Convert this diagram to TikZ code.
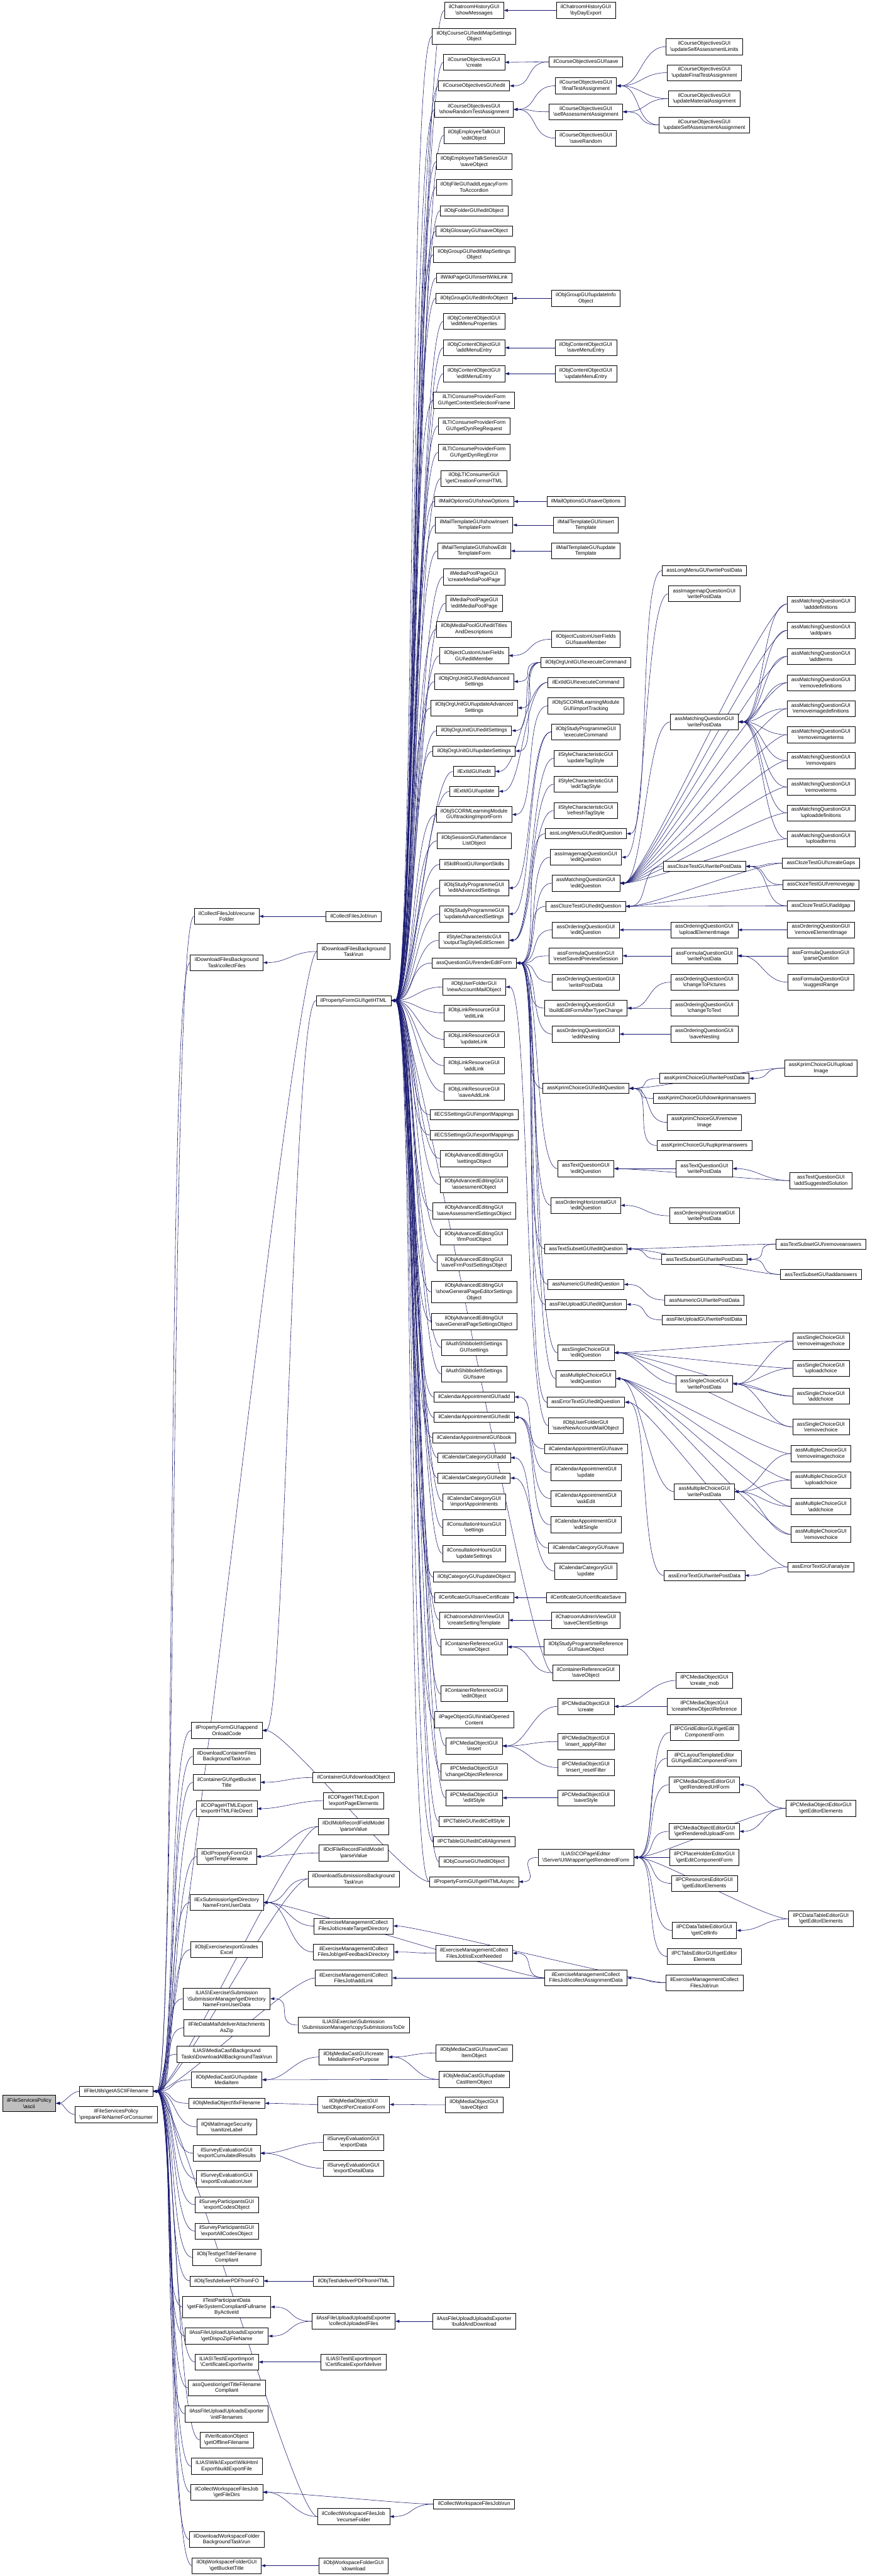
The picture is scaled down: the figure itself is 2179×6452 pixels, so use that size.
\documentclass[tikz,border=0pt]{standalone}
\usepackage{fontspec}
\setmainfont{Liberation Sans}
\usetikzlibrary{arrows.meta}
\definecolor{edgeblue}{HTML}{191970}
\definecolor{rootgray}{HTML}{BFBFBF}
\newcommand\BS{\textbackslash}
\pgfdeclarelayer{bg}
\pgfsetlayers{bg,main}
\tikzset{
 box/.style={draw=black, line width=1pt, fill=white, align=center, inner xsep=11pt, inner ysep=2pt, font=\fontsize{13}{15}\selectfont},
 b1/.style={box, minimum height=25pt},
 b2/.style={box, minimum height=40pt},
 b3/.style={box, minimum height=54pt},
 rootbox/.style={box, minimum height=40pt, fill=rootgray},
 edge/.style={draw=edgeblue, line width=0.9pt, -{Triangle[length=10pt,width=7pt]}},
}
\newcommand\Nd[5]{\node[#4] (#1) at (#2,-#3) {#5};}
\newcommand\Ed[3][60]{\draw[edge] (#3.west) .. controls +(-#1,0) and +(#1,0) .. (#2.east);}
\begin{document}
\begin{tikzpicture}[x=1pt,y=1pt]
\useasboundingbox (0,0) rectangle (2179,-6452);
% ---------- column 0 / 1
\Nd{root}{73}{5268}{rootbox}{ilFileServicesPolicy\\\BS ascii}
\Nd{gaf}{291}{5238}{b1}{ilFileUtils\BS getASCIIFilename}
\Nd{pfc}{291}{5296}{b2}{ilFileServicesPolicy\\\BS prepareFileNameForConsumer}
% ---------- column 2
\Nd{a2recurse}{568}{2295}{b2}{ilCollectFilesJob\BS recurse\\Folder}
\Nd{a2collect}{568}{2411}{b2}{ilDownloadFilesBackground\\Task\BS collectFiles}
\Nd{a2append}{568}{4334}{b2}{ilPropertyFormGUI\BS append\\OnloadCode}
\Nd{a2dlcont}{568}{4399}{b2}{ilDownloadContainerFiles\\BackgroundTask\BS run}
\Nd{a2bucket}{568}{4464}{b2}{ilContainerGUI\BS getBucket\\Title}
\Nd{a2exphtml}{568}{4530}{b2}{ilCOPageHTMLExport\\\BS exportHTMLFileDirect}
\Nd{a2temp}{568}{4650}{b2}{ilDclPropertyFormGUI\\\BS getTempFilename}
\Nd{a2exsub}{568}{4765}{b2}{ilExSubmission\BS getDirectory\\NameFromUserData}
\Nd{a2grades}{568}{4883}{b2}{ilObjExercise\BS exportGrades\\Excel}
\Nd{a2submgr}{568}{5006}{b3}{ILIAS\BS Exercise\BS Submission\\\BS SubmissionManager\BS getDirectory\\NameFromUserData}
\Nd{a2mail}{568}{5079}{b2}{ilFileDataMail\BS deliverAttachments\\AsZip}
\Nd{a2mcdl}{568}{5145}{b2}{ILIAS\BS MediaCast\BS Background\\Tasks\BS DownloadAllBackgroundTask\BS run}
\Nd{a2mcupd}{568}{5209}{b2}{ilObjMediaCastGUI\BS update\\MediaItem}
\Nd{a2fix}{568}{5268}{b1}{ilObjMediaObject\BS fixFilename}
\Nd{a2qti}{568}{5327}{b2}{ilQtiMatImageSecurity\\\BS sanitizeLabel}
\Nd{a2cumul}{568}{5393}{b2}{ilSurveyEvaluationGUI\\\BS exportCumulatedResults}
\Nd{a2evuser}{568}{5457}{b2}{ilSurveyEvaluationGUI\\\BS exportEvaluationUser}
\Nd{a2codes}{568}{5522}{b2}{ilSurveyParticipantsGUI\\\BS exportCodesObject}
\Nd{a2allcodes}{568}{5588}{b2}{ilSurveyParticipantsGUI\\\BS exportAllCodesObject}
\Nd{a2titletst}{568}{5654}{b2}{ilObjTest\BS getTitleFilename\\Compliant}
\Nd{a2pdffo}{568}{5713}{b1}{ilObjTest\BS deliverPDFfromFO}
\Nd{a2partdata}{568}{5778}{b3}{ilTestParticipantData\\\BS getFileSystemCompliantFullname\\ByActiveId}
\Nd{a2dispo}{568}{5851}{b2}{ilAssFileUploadUploadsExporter\\\BS getDispoZipFileName}
\Nd{a2certwrite}{568}{5916}{b2}{ILIAS\BS Test\BS ExportImport\\\BS CertificateExport\BS write}
\Nd{a2assq}{568}{5981}{b2}{assQuestion\BS getTitleFilename\\Compliant}
\Nd{a2initfn}{568}{6046}{b2}{ilAssFileUploadUploadsExporter\\\BS initFilenames}
\Nd{a2verif}{568}{6111}{b2}{ilVerificationObject\\\BS getOfflineFilename}
\Nd{a2wiki}{568}{6177}{b2}{ILIAS\BS Wiki\BS Export\BS WikiHtml\\Export\BS buildExportFile}
\Nd{a2filedirs}{568}{6242}{b2}{ilCollectWorkspaceFilesJob\\\BS getFileDirs}
\Nd{a2dlws}{568}{6360}{b2}{ilDownloadWorkspaceFolder\\BackgroundTask\BS run}
\Nd{a2wsbucket}{568}{6426}{b2}{ilObjWorkspaceFolderGUI\\\BS getBucketTitle}
% ---------- column 3
\Nd{b3cfrun}{886}{2295}{b1}{ilCollectFilesJob\BS run}
\Nd{b3dlrun}{886}{2383}{b2}{ilDownloadFilesBackground\\Task\BS run}
\Nd{b3html}{886}{2506}{b1}{ilPropertyFormGUI\BS getHTML}
\Nd{b3dlobj}{886}{4452}{b1}{ilContainerGUI\BS downloadObject}
\Nd{b3exppage}{886}{4510}{b2}{ilCOPageHTMLExport\\\BS exportPageElements}
\Nd{b3mob}{886}{4575}{b2}{ilDclMobRecordFieldModel\\\BS parseValue}
\Nd{b3file}{886}{4641}{b2}{ilDclFileRecordFieldModel\\\BS parseValue}
\Nd{b3dlsub}{886}{4706}{b2}{ilDownloadSubmissionsBackground\\Task\BS run}
\Nd{b3target}{886}{4824}{b2}{ilExerciseManagementCollect\\FilesJob\BS createTargetDirectory}
\Nd{b3feedback}{886}{4889}{b2}{ilExerciseManagementCollect\\FilesJob\BS getFeedbackDirectory}
\Nd{b3addlink}{886}{4954}{b2}{ilExerciseManagementCollect\\FilesJob\BS addLink}
\Nd{b3copysub}{886}{5072}{b2}{ILIAS\BS Exercise\BS Submission\\\BS SubmissionManager\BS copySubmissionsToDir}
\Nd{b3createmi}{886}{5152}{b2}{ilObjMediaCastGUI\BS create\\MediaItemForPurpose}
\Nd{b3setobj}{886}{5271}{b2}{ilObjMediaObjectGUI\\\BS setObjectPerCreationForm}
\Nd{b3expdata}{886}{5366}{b2}{ilSurveyEvaluationGUI\\\BS exportData}
\Nd{b3expdetail}{886}{5431}{b2}{ilSurveyEvaluationGUI\\\BS exportDetailData}
\Nd{b3pdfhtml}{886}{5713}{b1}{ilObjTest\BS deliverPDFfromHTML}
\Nd{b3collectup}{886}{5814}{b2}{ilAssFileUploadUploadsExporter\\\BS collectUploadedFiles}
\Nd{b3certdel}{886}{5916}{b2}{ILIAS\BS Test\BS ExportImport\\\BS CertificateExport\BS deliver}
\Nd{b3wsrecurse}{886}{6303}{b2}{ilCollectWorkspaceFilesJob\\\BS recurseFolder}
\Nd{b3wsdl}{886}{6426}{b2}{ilObjWorkspaceFolderGUI\\\BS download}
% ---------- column 4
\Nd{d4showmsg}{1188}{26}{b2}{ilChatroomHistoryGUI\\\BS showMessages}
\Nd{d4crsmap}{1188}{91}{b2}{ilObjCourseGUI\BS editMapSettings\\Object}
\Nd{d4cocreate}{1188}{156}{b2}{ilCourseObjectivesGUI\\\BS create}
\Nd{d4coedit}{1188}{215}{b1}{ilCourseObjectivesGUI\BS edit}
\Nd{d4corandom}{1188}{274}{b2}{ilCourseObjectivesGUI\\\BS showRandomTestAssignment}
\Nd{d4talk}{1188}{339}{b2}{ilObjEmployeeTalkGUI\\\BS editObject}
\Nd{d4talkser}{1188}{405}{b2}{ilObjEmployeeTalkSeriesGUI\\\BS saveObject}
\Nd{d4filelegacy}{1188}{469}{b2}{ilObjFileGUI\BS addLegacyForm\\ToAccordion}
\Nd{d4folder}{1188}{528}{b1}{ilObjFolderGUI\BS editObject}
\Nd{d4glossary}{1188}{579}{b1}{ilObjGlossaryGUI\BS saveObject}
\Nd{d4grpmap}{1188}{638}{b2}{ilObjGroupGUI\BS editMapSettings\\Object}
\Nd{d4wiki}{1188}{696}{b1}{ilWikiPageGUI\BS insertWikiLink}
\Nd{d4grpinfo}{1188}{747}{b1}{ilObjGroupGUI\BS editInfoObject}
\Nd{d4menuprops}{1188}{805}{b2}{ilObjContentObjectGUI\\\BS editMenuProperties}
\Nd{d4addmenu}{1188}{871}{b2}{ilObjContentObjectGUI\\\BS addMenuEntry}
\Nd{d4editmenu}{1188}{936}{b2}{ilObjContentObjectGUI\\\BS editMenuEntry}
\Nd{d4ltiframe}{1188}{1002}{b2}{ilLTIConsumeProviderForm\\GUI\BS getContentSelectionFrame}
\Nd{d4ltireq}{1188}{1067}{b2}{ilLTIConsumeProviderForm\\GUI\BS getDynRegRequest}
\Nd{d4ltierr}{1188}{1133}{b2}{ilLTIConsumeProviderForm\\GUI\BS getDynRegError}
\Nd{d4lticreate}{1188}{1198}{b2}{ilObjLTIConsumerGUI\\\BS getCreationFormsHTML}
\Nd{d4mailopts}{1188}{1256}{b1}{ilMailOptionsGUI\BS showOptions}
\Nd{d4showins}{1188}{1315}{b2}{ilMailTemplateGUI\BS showInsert\\TemplateForm}
\Nd{d4showedit}{1188}{1380}{b2}{ilMailTemplateGUI\BS showEdit\\TemplateForm}
\Nd{d4mpcreate}{1188}{1445}{b2}{ilMediaPoolPageGUI\\\BS createMediaPoolPage}
\Nd{d4mpedit}{1188}{1511}{b2}{ilMediaPoolPageGUI\\\BS editMediaPoolPage}
\Nd{d4mptitles}{1188}{1576}{b2}{ilObjMediaPoolGUI\BS editTitles\\AndDescriptions}
\Nd{d4cufedit}{1188}{1642}{b2}{ilObjectCustomUserFields\\GUI\BS editMember}
\Nd{d4oueditadv}{1188}{1707}{b2}{ilObjOrgUnitGUI\BS editAdvanced\\Settings}
\Nd{d4ouupdadv}{1188}{1773}{b2}{ilObjOrgUnitGUI\BS updateAdvanced\\Settings}
\Nd{d4ouedit}{1188}{1830}{b1}{ilObjOrgUnitGUI\BS editSettings}
\Nd{d4ouupd}{1188}{1881}{b1}{ilObjOrgUnitGUI\BS updateSettings}
\Nd{d4extedit}{1188}{1932}{b1}{ilExtIdGUI\BS edit}
\Nd{d4extupd}{1188}{1982}{b1}{ilExtIdGUI\BS update}
\Nd{d4scorm}{1188}{2040}{b2}{ilObjSCORMLearningModule\\GUI\BS trackingImportForm}
\Nd{d4session}{1188}{2106}{b2}{ilObjSessionGUI\BS attendance\\ListObject}
\Nd{d4skill}{1188}{2165}{b1}{ilSkillRootGUI\BS importSkills}
\Nd{d4speditadv}{1188}{2224}{b2}{ilObjStudyProgrammeGUI\\\BS editAdvancedSettings}
\Nd{d4spupdadv}{1188}{2289}{b2}{ilObjStudyProgrammeGUI\\\BS updateAdvancedSettings}
\Nd{d4tagstyle}{1188}{2355}{b2}{ilStyleCharacteristicGUI\\\BS outputTagStyleEditScreen}
\Nd{d4render}{1188}{2412}{b1}{assQuestionGUI\BS renderEditForm}
\Nd{d4newacc}{1188}{2472}{b2}{ilObjUserFolderGUI\\\BS newAccountMailObject}
\Nd{d4editlink}{1188}{2537}{b2}{ilObjLinkResourceGUI\\\BS editLink}
\Nd{d4updlink}{1188}{2603}{b2}{ilObjLinkResourceGUI\\\BS updateLink}
\Nd{d4addlink}{1188}{2669}{b2}{ilObjLinkResourceGUI\\\BS addLink}
\Nd{d4saveaddlink}{1188}{2735}{b2}{ilObjLinkResourceGUI\\\BS saveAddLink}
\Nd{d4ecsimp}{1188}{2792}{b1}{ilECSSettingsGUI\BS importMappings}
\Nd{d4ecsexp}{1188}{2843}{b1}{ilECSSettingsGUI\BS exportMappings}
\Nd{d4aeset}{1188}{2902}{b2}{ilObjAdvancedEditingGUI\\\BS settingsObject}
\Nd{d4aeass}{1188}{2967}{b2}{ilObjAdvancedEditingGUI\\\BS assessmentObject}
\Nd{d4aesaveass}{1188}{3033}{b2}{ilObjAdvancedEditingGUI\\\BS saveAssessmentSettingsObject}
\Nd{d4aefrm}{1188}{3098}{b2}{ilObjAdvancedEditingGUI\\\BS frmPostObject}
\Nd{d4aesavefrm}{1188}{3163}{b2}{ilObjAdvancedEditingGUI\\\BS saveFrmPostSettingsObject}
\Nd{d4aeshowgen}{1188}{3236}{b3}{ilObjAdvancedEditingGUI\\\BS showGeneralPageEditorSettings\\Object}
\Nd{d4aesavegen}{1188}{3310}{b2}{ilObjAdvancedEditingGUI\\\BS saveGeneralPageSettingsObject}
\Nd{d4shibset}{1188}{3375}{b2}{ilAuthShibbolethSettings\\GUI\BS settings}
\Nd{d4shibsave}{1188}{3441}{b2}{ilAuthShibbolethSettings\\GUI\BS save}
\Nd{d4caladd}{1188}{3499}{b1}{ilCalendarAppointmentGUI\BS add}
\Nd{d4caledit}{1188}{3550}{b1}{ilCalendarAppointmentGUI\BS edit}
\Nd{d4calbook}{1188}{3601}{b1}{ilCalendarAppointmentGUI\BS book}
\Nd{d4catadd}{1188}{3651}{b1}{ilCalendarCategoryGUI\BS add}
\Nd{d4catedit}{1188}{3702}{b1}{ilCalendarCategoryGUI\BS edit}
\Nd{d4catimport}{1188}{3761}{b2}{ilCalendarCategoryGUI\\\BS importAppointments}
\Nd{d4chset}{1188}{3826}{b2}{ilConsultationHoursGUI\\\BS settings}
\Nd{d4chupd}{1188}{3891}{b2}{ilConsultationHoursGUI\\\BS updateSettings}
\Nd{d4catupdobj}{1188}{3950}{b1}{ilObjCategoryGUI\BS updateObject}
\Nd{d4certsave}{1188}{4001}{b1}{ilCertificateGUI\BS saveCertificate}
\Nd{d4chattpl}{1188}{4058}{b2}{ilChatroomAdminViewGUI\\\BS createSettingTemplate}
\Nd{d4crcreate}{1188}{4125}{b2}{ilContainerReferenceGUI\\\BS createObject}
\Nd{d4credit}{1188}{4242}{b2}{ilContainerReferenceGUI\\\BS editObject}
\Nd{d4initopen}{1188}{4307}{b2}{ilPageObjectGUI\BS initialOpened\\Content}
\Nd{d4pcminsert}{1188}{4373}{b2}{ilPCMediaObjectGUI\\\BS insert}
\Nd{d4pcmchange}{1188}{4438}{b2}{ilPCMediaObjectGUI\\\BS changeObjectReference}
\Nd{d4pcmstyle}{1188}{4503}{b2}{ilPCMediaObjectGUI\\\BS editStyle}
\Nd{d4tblstyle}{1188}{4562}{b1}{ilPCTableGUI\BS editCellStyle}
\Nd{d4tblalign}{1188}{4613}{b1}{ilPCTableGUI\BS editCellAlignment}
\Nd{d4crsedit}{1188}{4663}{b1}{ilObjCourseGUI\BS editObject}
\Nd{d4async}{1188}{4713}{b1}{ilPropertyFormGUI\BS getHTMLAsync}
\Nd{d4isexcel}{1188}{4892}{b2}{ilExerciseManagementCollect\\FilesJob\BS isExcelNeeded}
\Nd{d4savecast}{1188}{5142}{b2}{ilObjMediaCastGUI\BS saveCast\\ItemObject}
\Nd{d4updcast}{1188}{5208}{b2}{ilObjMediaCastGUI\BS update\\CastItemObject}
\Nd{d4mosave}{1188}{5272}{b2}{ilObjMediaObjectGUI\\\BS saveObject}
\Nd{d4builddl}{1188}{5814}{b2}{ilAssFileUploadUploadsExporter\\\BS buildAndDownload}
\Nd{d4wsrun}{1188}{6272}{b1}{ilCollectWorkspaceFilesJob\BS run}
% ---------- column 5
\Nd{e5byday}{1468}{26}{b2}{ilChatroomHistoryGUI\\\BS byDayExport}
\Nd{e5cosave}{1468}{155}{b1}{ilCourseObjectivesGUI\BS save}
\Nd{e5cofinal}{1468}{215}{b2}{ilCourseObjectivesGUI\\\BS finalTestAssignment}
\Nd{e5coself}{1468}{280}{b2}{ilCourseObjectivesGUI\\\BS selfAssessmentAssignment}
\Nd{e5corandom}{1468}{346}{b2}{ilCourseObjectivesGUI\\\BS saveRandom}
\Nd{e5grpupd}{1468}{747}{b2}{ilObjGroupGUI\BS updateInfo\\Object}
\Nd{e5savemenu}{1468}{871}{b2}{ilObjContentObjectGUI\\\BS saveMenuEntry}
\Nd{e5updmenu}{1468}{936}{b2}{ilObjContentObjectGUI\\\BS updateMenuEntry}
\Nd{e5mailsave}{1468}{1256}{b1}{ilMailOptionsGUI\BS saveOptions}
\Nd{e5instpl}{1468}{1315}{b2}{ilMailTemplateGUI\BS insert\\Template}
\Nd{e5updtpl}{1468}{1380}{b2}{ilMailTemplateGUI\BS update\\Template}
\Nd{e5cufsave}{1468}{1601}{b2}{ilObjectCustomUserFields\\GUI\BS saveMember}
\Nd{e5ouexec}{1468}{1659}{b1}{ilObjOrgUnitGUI\BS executeCommand}
\Nd{e5extexec}{1468}{1709}{b1}{ilExtIdGUI\BS executeCommand}
\Nd{e5scormimp}{1468}{1768}{b2}{ilObjSCORMLearningModule\\GUI\BS importTracking}
\Nd{e5spexec}{1468}{1833}{b2}{ilObjStudyProgrammeGUI\\\BS executeCommand}
\Nd{e5updtag}{1468}{1899}{b2}{ilStyleCharacteristicGUI\\\BS updateTagStyle}
\Nd{e5edittag}{1468}{1964}{b2}{ilStyleCharacteristicGUI\\\BS editTagStyle}
\Nd{e5refreshtag}{1468}{2030}{b2}{ilStyleCharacteristicGUI\\\BS refreshTagStyle}
\Nd{e5lmedit}{1468}{2088}{b1}{assLongMenuGUI\BS editQuestion}
\Nd{e5imedit}{1468}{2147}{b2}{assImagemapQuestionGUI\\\BS editQuestion}
\Nd{e5maedit}{1468}{2212}{b2}{assMatchingQuestionGUI\\\BS editQuestion}
\Nd{e5cledit}{1468}{2270}{b1}{assClozeTestGUI\BS editQuestion}
\Nd{e5oredit}{1468}{2329}{b2}{assOrderingQuestionGUI\\\BS editQuestion}
\Nd{e5fqreset}{1468}{2394}{b2}{assFormulaQuestionGUI\\\BS resetSavedPreviewSession}
\Nd{e5orwrite}{1468}{2460}{b2}{assOrderingQuestionGUI\\\BS writePostData}
\Nd{e5orbuild}{1468}{2525}{b2}{assOrderingQuestionGUI\\\BS buildEditFormAfterTypeChange}
\Nd{e5ornest}{1468}{2590}{b2}{assOrderingQuestionGUI\\\BS editNesting}
\Nd{e5kpedit}{1468}{2726}{b1}{assKprimChoiceGUI\BS editQuestion}
\Nd{e5tqedit}{1468}{2927}{b2}{assTextQuestionGUI\\\BS editQuestion}
\Nd{e5ohedit}{1468}{3019}{b2}{assOrderingHorizontalGUI\\\BS editQuestion}
\Nd{e5tsedit}{1468}{3128}{b1}{assTextSubsetGUI\BS editQuestion}
\Nd{e5nuedit}{1468}{3217}{b1}{assNumericGUI\BS editQuestion}
\Nd{e5fuedit}{1468}{3267}{b1}{assFileUploadGUI\BS editQuestion}
\Nd{e5scedit}{1468}{3388}{b2}{assSingleChoiceGUI\\\BS editQuestion}
\Nd{e5mcedit}{1468}{3453}{b2}{assMultipleChoiceGUI\\\BS editQuestion}
\Nd{e5etedit}{1468}{3512}{b1}{assErrorTextGUI\BS editQuestion}
\Nd{e5newaccsave}{1468}{3571}{b2}{ilObjUserFolderGUI\\\BS saveNewAccountMailObject}
\Nd{e5calsave}{1468}{3629}{b1}{ilCalendarAppointmentGUI\BS save}
\Nd{e5calupd}{1468}{3688}{b2}{ilCalendarAppointmentGUI\\\BS update}
\Nd{e5calask}{1468}{3753}{b2}{ilCalendarAppointmentGUI\\\BS askEdit}
\Nd{e5calsingle}{1468}{3819}{b2}{ilCalendarAppointmentGUI\\\BS editSingle}
\Nd{e5catsave}{1468}{3877}{b1}{ilCalendarCategoryGUI\BS save}
\Nd{e5catupd}{1468}{3935}{b2}{ilCalendarCategoryGUI\\\BS update}
\Nd{e5certsave}{1468}{4001}{b1}{ilCertificateGUI\BS certificateSave}
\Nd{e5chatsave}{1468}{4058}{b2}{ilChatroomAdminViewGUI\\\BS saveClientSettings}
\Nd{e5sprefsave}{1468}{4125}{b2}{ilObjStudyProgrammeReference\\GUI\BS saveObject}
\Nd{e5crsave}{1468}{4190}{b2}{ilContainerReferenceGUI\\\BS saveObject}
\Nd{e5pcmcreate}{1468}{4274}{b2}{ilPCMediaObjectGUI\\\BS create}
\Nd{e5pcmapply}{1468}{4362}{b2}{ilPCMediaObjectGUI\\\BS insert\_applyFilter}
\Nd{e5pcmreset}{1468}{4427}{b2}{ilPCMediaObjectGUI\\\BS insert\_resetFilter}
\Nd{e5pcmsavestyle}{1468}{4503}{b2}{ilPCMediaObjectGUI\\\BS saveStyle}
\Nd{e5uirender}{1468}{4652}{b2}{ILIAS\BS COPage\BS Editor\\\BS Server\BS UIWrapper\BS getRenderedForm}
\Nd{e5collectad}{1468}{4954}{b2}{ilExerciseManagementCollect\\FilesJob\BS collectAssignmentData}
% ---------- column 6
\Nd{f6colimits}{1765}{117}{b2}{ilCourseObjectivesGUI\\\BS updateSelfAssessmentLimits}
\Nd{f6coupdfinal}{1765}{182}{b2}{ilCourseObjectivesGUI\\\BS updateFinalTestAssignment}
\Nd{f6coupdmat}{1765}{247}{b2}{ilCourseObjectivesGUI\\\BS updateMaterialAssignment}
\Nd{f6coupdself}{1765}{313}{b2}{ilCourseObjectivesGUI\\\BS updateSelfAssessmentAssignment}
\Nd{f6lmwrite}{1765}{1429}{b1}{assLongMenuGUI\BS writePostData}
\Nd{f6imwrite}{1765}{1487}{b2}{assImagemapQuestionGUI\\\BS writePostData}
\Nd{f6mawrite}{1765}{1808}{b2}{assMatchingQuestionGUI\\\BS writePostData}
\Nd{f6clwrite}{1765}{2170}{b1}{assClozeTestGUI\BS writePostData}
\Nd{f6orupload}{1765}{2329}{b2}{assOrderingQuestionGUI\\\BS uploadElementImage}
\Nd{f6fqwrite}{1765}{2394}{b2}{assFormulaQuestionGUI\\\BS writePostData}
\Nd{f6orpics}{1765}{2460}{b2}{assOrderingQuestionGUI\\\BS changeToPictures}
\Nd{f6ortext}{1765}{2525}{b2}{assOrderingQuestionGUI\\\BS changeToText}
\Nd{f6orsavenest}{1765}{2590}{b2}{assOrderingQuestionGUI\\\BS saveNesting}
\Nd{f6kpwrite}{1765}{2701}{b1}{assKprimChoiceGUI\BS writePostData}
\Nd{f6kpdown}{1765}{2751}{b1}{assKprimChoiceGUI\BS downkprimanswers}
\Nd{f6kpremove}{1765}{2811}{b2}{assKprimChoiceGUI\BS remove\\Image}
\Nd{f6kpup}{1765}{2869}{b1}{assKprimChoiceGUI\BS upkprimanswers}
\Nd{f6tqwrite}{1765}{2927}{b2}{assTextQuestionGUI\\\BS writePostData}
\Nd{f6ohwrite}{1765}{3045}{b2}{assOrderingHorizontalGUI\\\BS writePostData}
\Nd{f6tswrite}{1765}{3154}{b1}{assTextSubsetGUI\BS writePostData}
\Nd{f6nuwrite}{1765}{3256}{b1}{assNumericGUI\BS writePostData}
\Nd{f6fuwrite}{1765}{3306}{b1}{assFileUploadGUI\BS writePostData}
\Nd{f6scwrite}{1765}{3466}{b2}{assSingleChoiceGUI\\\BS writePostData}
\Nd{f6mcwrite}{1765}{3736}{b2}{assMultipleChoiceGUI\\\BS writePostData}
\Nd{f6etwrite}{1765}{3946}{b1}{assErrorTextGUI\BS writePostData}
\Nd{f6pcmmob}{1765}{4209}{b2}{ilPCMediaObjectGUI\\\BS create\_mob}
\Nd{f6pcmnewref}{1765}{4274}{b2}{ilPCMediaObjectGUI\\\BS createNewObjectReference}
\Nd{f6gridform}{1765}{4339}{b2}{ilPCGridEditorGUI\BS getEdit\\ComponentForm}
\Nd{f6layoutform}{1765}{4404}{b2}{ilPCLayoutTemplateEditor\\GUI\BS getEditComponentForm}
\Nd{f6mourl}{1765}{4470}{b2}{ilPCMediaObjectEditorGUI\\\BS getRenderedUrlForm}
\Nd{f6moupload}{1765}{4587}{b2}{ilPCMediaObjectEditorGUI\\\BS getRenderedUploadForm}
\Nd{f6phform}{1765}{4652}{b2}{ilPCPlaceHolderEditorGUI\\\BS getEditComponentForm}
\Nd{f6resel}{1765}{4717}{b2}{ilPCResourcesEditorGUI\\\BS getEditorElements}
\Nd{f6dtcell}{1765}{4835}{b2}{ilPCDataTableEditorGUI\\\BS getCellInfo}
\Nd{f6tabsel}{1765}{4900}{b2}{ilPCTabsEditorGUI\BS getEditor\\Elements}
\Nd{f6exrun}{1765}{4966}{b2}{ilExerciseManagementCollect\\FilesJob\BS run}
% ---------- column 7
\Nd{g7madef}{2057}{1513}{b2}{assMatchingQuestionGUI\\\BS adddefinitions}
\Nd{g7mapairs}{2057}{1579}{b2}{assMatchingQuestionGUI\\\BS addpairs}
\Nd{g7materms}{2057}{1644}{b2}{assMatchingQuestionGUI\\\BS addterms}
\Nd{g7maremdef}{2057}{1710}{b2}{assMatchingQuestionGUI\\\BS removedefinitions}
\Nd{g7maremimgdef}{2057}{1775}{b2}{assMatchingQuestionGUI\\\BS removeimagedefinitions}
\Nd{g7maremimgterms}{2057}{1840}{b2}{assMatchingQuestionGUI\\\BS removeimageterms}
\Nd{g7marempairs}{2057}{1905}{b2}{assMatchingQuestionGUI\\\BS removepairs}
\Nd{g7maremterms}{2057}{1971}{b2}{assMatchingQuestionGUI\\\BS removeterms}
\Nd{g7maupdef}{2057}{2036}{b2}{assMatchingQuestionGUI\\\BS uploaddefinitions}
\Nd{g7maupterms}{2057}{2101}{b2}{assMatchingQuestionGUI\\\BS uploadterms}
\Nd{g7creategaps}{2057}{2162}{b1}{assClozeTestGUI\BS createGaps}
\Nd{g7removegap}{2057}{2216}{b1}{assClozeTestGUI\BS removegap}
\Nd{g7addgap}{2057}{2269}{b1}{assClozeTestGUI\BS addgap}
\Nd{g7orremimg}{2057}{2329}{b2}{assOrderingQuestionGUI\\\BS removeElementImage}
\Nd{g7fqparse}{2057}{2394}{b2}{assFormulaQuestionGUI\\\BS parseQuestion}
\Nd{g7fqsuggest}{2057}{2460}{b2}{assFormulaQuestionGUI\\\BS suggestRange}
\Nd{g7kpupimg}{2057}{2675}{b2}{assKprimChoiceGUI\BS upload\\Image}
\Nd{g7tqaddsugg}{2057}{2957}{b2}{assTextQuestionGUI\\\BS addSuggestedSolution}
\Nd{g7tsremans}{2057}{3116}{b1}{assTextSubsetGUI\BS removeanswers}
\Nd{g7tsaddans}{2057}{3192}{b1}{assTextSubsetGUI\BS addanswers}
\Nd{g7scremimg}{2057}{3359}{b2}{assSingleChoiceGUI\\\BS removeimagechoice}
\Nd{g7scupload}{2057}{3427}{b2}{assSingleChoiceGUI\\\BS uploadchoice}
\Nd{g7scadd}{2057}{3497}{b2}{assSingleChoiceGUI\\\BS addchoice}
\Nd{g7scremove}{2057}{3574}{b2}{assSingleChoiceGUI\\\BS removechoice}
\Nd{g7mcremimg}{2057}{3641}{b2}{assMultipleChoiceGUI\\\BS removeimagechoice}
\Nd{g7mcupload}{2057}{3707}{b2}{assMultipleChoiceGUI\\\BS uploadchoice}
\Nd{g7mcadd}{2057}{3773}{b2}{assMultipleChoiceGUI\\\BS addchoice}
\Nd{g7mcremove}{2057}{3843}{b2}{assMultipleChoiceGUI\\\BS removechoice}
\Nd{g7etanalyze}{2057}{3925}{b1}{assErrorTextGUI\BS analyze}
\Nd{g7moeditorel}{2057}{4529}{b2}{ilPCMediaObjectEditorGUI\\\BS getEditorElements}
\Nd{g7dteditorel}{2057}{4806}{b2}{ilPCDataTableEditorGUI\\\BS getEditorElements}
% ================= edges
\begin{pgfonlayer}{bg}
\Ed[20]{root}{gaf}
\Ed[20]{root}{pfc}
\foreach \n in {a2recurse,a2collect,a2append,a2dlcont,a2bucket,a2exphtml,a2temp,a2exsub,a2grades,a2submgr,a2mail,a2mcdl,a2mcupd,a2fix,a2qti,a2cumul,a2evuser,a2codes,a2allcodes,a2titletst,a2pdffo,a2partdata,a2dispo,a2certwrite,a2assq,a2initfn,a2verif,a2wiki,a2filedirs,a2dlws,a2wsbucket,b3dlrun,b3mob,b3dlsub,b3addlink,b3wsrecurse}
  {\Ed{gaf}{\n}}
\Ed{a2recurse}{b3cfrun}
\Ed{a2collect}{b3dlrun}
\Ed{a2append}{b3html}
\Ed{a2append}{d4async}
\Ed{a2bucket}{b3dlobj}
\Ed{a2exphtml}{b3exppage}
\Ed{a2temp}{b3mob}
\Ed{a2temp}{b3file}
\Ed{a2exsub}{b3dlsub}
\Ed{a2exsub}{b3target}
\Ed{a2exsub}{b3feedback}
\Ed{a2exsub}{e5collectad}
\Ed{a2submgr}{b3copysub}
\Ed{a2mcupd}{b3createmi}
\Ed{a2mcupd}{d4updcast}
\Ed{a2fix}{b3setobj}
\Ed{a2cumul}{b3expdata}
\Ed{a2cumul}{b3expdetail}
\Ed{a2pdffo}{b3pdfhtml}
\Ed{a2partdata}{b3collectup}
\Ed{a2dispo}{b3collectup}
\Ed{a2certwrite}{b3certdel}
\Ed{a2filedirs}{b3wsrecurse}
\Ed{a2filedirs}{d4wsrun}
\Ed{a2wsbucket}{b3wsdl}
\foreach \n in {d4showmsg,d4crsmap,d4cocreate,d4coedit,d4corandom,d4talk,d4talkser,d4filelegacy,d4folder,d4glossary,d4grpmap,d4wiki,d4grpinfo,d4menuprops,d4addmenu,d4editmenu,d4ltiframe,d4ltireq,d4ltierr,d4lticreate,d4mailopts,d4showins,d4showedit,d4mpcreate,d4mpedit,d4mptitles,d4cufedit,d4oueditadv,d4ouupdadv,d4ouedit,d4ouupd,d4extedit,d4extupd,d4scorm,d4session,d4skill,d4speditadv,d4spupdadv,d4tagstyle,d4render,d4newacc,d4editlink,d4updlink,d4addlink,d4saveaddlink,d4ecsimp,d4ecsexp,d4aeset,d4aeass,d4aesaveass,d4aefrm,d4aesavefrm,d4aeshowgen,d4aesavegen,d4shibset,d4shibsave,d4caladd,d4caledit,d4calbook,d4catadd,d4catedit,d4catimport,d4chset,d4chupd,d4catupdobj,d4certsave,d4chattpl,d4crcreate,d4credit,d4initopen,d4pcminsert,d4pcmchange,d4pcmstyle,d4tblstyle,d4tblalign,d4crsedit,d4async,e5crsave}
  {\Ed{b3html}{\n}}
\Ed{b3feedback}{d4isexcel}
\Ed{b3createmi}{d4savecast}
\Ed{b3createmi}{d4updcast}
\Ed{b3setobj}{d4mosave}
\Ed{b3collectup}{d4builddl}
\Ed{b3wsrecurse}{d4wsrun}
\Ed{b3addlink}{e5collectad}
\Ed{b3target}{f6exrun}
% column 5 -> 4
\Ed{d4showmsg}{e5byday}
\Ed{d4cocreate}{e5cosave}
\Ed{d4coedit}{e5cosave}
\Ed{d4corandom}{e5cofinal}
\Ed{d4corandom}{e5coself}
\Ed{d4corandom}{e5corandom}
\Ed{d4grpinfo}{e5grpupd}
\Ed{d4addmenu}{e5savemenu}
\Ed{d4editmenu}{e5updmenu}
\Ed{d4mailopts}{e5mailsave}
\Ed{d4showins}{e5instpl}
\Ed{d4showedit}{e5updtpl}
\Ed{d4cufedit}{e5cufsave}
\foreach \n in {d4oueditadv,d4ouupdadv,d4ouedit,d4ouupd} {\Ed{\n}{e5ouexec}}
\Ed{d4extedit}{e5extexec}
\Ed{d4extupd}{e5extexec}
\Ed{d4scorm}{e5scormimp}
\Ed{d4speditadv}{e5spexec}
\Ed{d4spupdadv}{e5spexec}
\foreach \n in {e5updtag,e5edittag,e5refreshtag} {\Ed{d4tagstyle}{\n}}
\foreach \n in {e5lmedit,e5imedit,e5maedit,e5cledit,e5oredit,e5fqreset,e5orwrite,e5orbuild,e5ornest,e5kpedit,e5tqedit,e5ohedit,e5tsedit,e5nuedit,e5fuedit,e5scedit,e5mcedit,e5etedit}
  {\Ed{d4render}{\n}}
\Ed{d4newacc}{e5newaccsave}
\Ed{d4caladd}{e5calsave}
\foreach \n in {e5calupd,e5calask,e5calsingle} {\Ed{d4caledit}{\n}}
\Ed{d4catadd}{e5catsave}
\Ed{d4catedit}{e5catupd}
\Ed{d4certsave}{e5certsave}
\Ed{d4chattpl}{e5chatsave}
\Ed{d4crcreate}{e5sprefsave}
\Ed{d4crcreate}{e5crsave}
\foreach \n in {e5pcmcreate,e5pcmapply,e5pcmreset} {\Ed{d4pcminsert}{\n}}
\Ed{d4pcmstyle}{e5pcmsavestyle}
\Ed{d4async}{e5uirender}
\Ed{d4isexcel}{e5collectad}
% column 6 -> 5
\Ed{e5cofinal}{f6colimits}
\Ed{e5cofinal}{f6coupdfinal}
\Ed{e5cofinal}{f6coupdmat}
\Ed{e5coself}{f6coupdmat}
\Ed{e5cofinal}{f6coupdself}
\Ed{e5coself}{f6coupdself}
\Ed{e5lmedit}{f6lmwrite}
\Ed{e5imedit}{f6imwrite}
\Ed{e5maedit}{f6mawrite}
\Ed{e5cledit}{f6clwrite}
\Ed{e5oredit}{f6orupload}
\Ed{e5fqreset}{f6fqwrite}
\Ed{e5orbuild}{f6orpics}
\Ed{e5orbuild}{f6ortext}
\Ed{e5ornest}{f6orsavenest}
\foreach \n in {f6kpwrite,f6kpdown,f6kpremove,f6kpup} {\Ed{e5kpedit}{\n}}
\Ed{e5tqedit}{f6tqwrite}
\Ed{e5ohedit}{f6ohwrite}
\Ed{e5tsedit}{f6tswrite}
\Ed{e5nuedit}{f6nuwrite}
\Ed{e5fuedit}{f6fuwrite}
\Ed{e5scedit}{f6scwrite}
\Ed{e5mcedit}{f6mcwrite}
\Ed{e5etedit}{f6etwrite}
\Ed{e5pcmcreate}{f6pcmmob}
\Ed{e5pcmcreate}{f6pcmnewref}
\foreach \n in {f6gridform,f6layoutform,f6mourl,f6moupload,f6phform,f6resel,f6dtcell,f6tabsel} {\Ed{e5uirender}{\n}}
\Ed{e5collectad}{f6exrun}
% column 7 -> 6 / 5
\foreach \n in {g7madef,g7mapairs,g7materms,g7maremdef,g7maremimgdef,g7maremimgterms,g7marempairs,g7maremterms,g7maupdef,g7maupterms}
  {\Ed{f6mawrite}{\n}\Ed{e5maedit}{\n}}
\foreach \n in {g7creategaps,g7removegap,g7addgap} {\Ed{f6clwrite}{\n}\Ed{e5cledit}{\n}}
\Ed{f6orupload}{g7orremimg}
\Ed{f6fqwrite}{g7fqparse}
\Ed{f6fqwrite}{g7fqsuggest}
\Ed{f6kpwrite}{g7kpupimg}
\Ed{e5kpedit}{g7kpupimg}
\Ed{f6tqwrite}{g7tqaddsugg}
\Ed{e5tqedit}{g7tqaddsugg}
\foreach \n in {g7tsremans,g7tsaddans} {\Ed{f6tswrite}{\n}\Ed{e5tsedit}{\n}}
\foreach \n in {g7scremimg,g7scupload,g7scadd,g7scremove} {\Ed{f6scwrite}{\n}\Ed{e5scedit}{\n}}
\foreach \n in {g7mcremimg,g7mcupload,g7mcadd,g7mcremove} {\Ed{f6mcwrite}{\n}\Ed{e5mcedit}{\n}}
\Ed{f6etwrite}{g7etanalyze}
\Ed{e5etedit}{g7etanalyze}
\Ed{f6mourl}{g7moeditorel}
\Ed{f6moupload}{g7moeditorel}
\Ed{e5uirender}{g7moeditorel}
\Ed{f6dtcell}{g7dteditorel}
\Ed{e5uirender}{g7dteditorel}
\end{pgfonlayer}
\end{tikzpicture}
\end{document}
